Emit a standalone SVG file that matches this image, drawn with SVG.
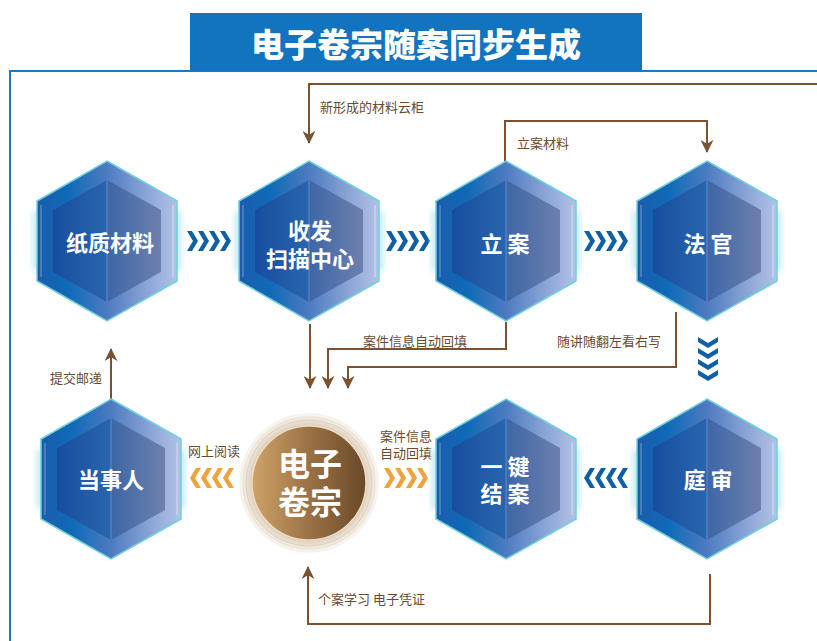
<svg xmlns="http://www.w3.org/2000/svg" xmlns:xlink="http://www.w3.org/1999/xlink" width="817" height="641" viewBox="0 0 817 641">
<style>
.title{font-family:"Noto Sans CJK SC","Noto Sans",sans-serif;font-weight:900;font-size:33px;fill:#fff}
.nt{font-family:"Noto Sans CJK SC","Noto Sans",sans-serif;font-weight:700;font-size:22px;fill:#fff}
.ct{font-family:"Noto Sans CJK SC","Noto Sans",sans-serif;font-weight:700;font-size:32px;fill:#fff}
.lb{font-family:"Noto Sans CJK SC","Noto Sans",sans-serif;font-size:13px;fill:#6b4a2e}
.con{fill:none;stroke:#7a5230;stroke-width:2}
</style>
<defs>
<linearGradient id="gOut" x1="0" y1="0" x2="1" y2="0">
<stop offset="0" stop-color="#1c5cad"/>
<stop offset="0.22" stop-color="#0e6ab7"/>
<stop offset="0.5" stop-color="#4d7bc0"/>
<stop offset="0.8" stop-color="#8ea7d7"/>
<stop offset="1" stop-color="#b3c2e6"/>
</linearGradient>
<linearGradient id="gInL" x1="0" y1="0" x2="1" y2="0">
<stop offset="0" stop-color="#184d9e"/>
<stop offset="1" stop-color="#2966af"/>
</linearGradient>
<linearGradient id="gInR" x1="0" y1="0" x2="1" y2="0">
<stop offset="0" stop-color="#3d66a6"/>
<stop offset="1" stop-color="#6e80ae"/>
</linearGradient>
<linearGradient id="gCirc" x1="0" y1="0" x2="1" y2="0">
<stop offset="0" stop-color="#cfa266"/>
<stop offset="0.5" stop-color="#9a7246"/>
<stop offset="1" stop-color="#6a4929"/>
</linearGradient>
<radialGradient id="gRing" cx="0.5" cy="0.5" r="0.5">
<stop offset="0.78" stop-color="#d9c8b2"/>
<stop offset="0.88" stop-color="#ebe1d4"/>
<stop offset="1" stop-color="#ffffff"/>
</radialGradient>
<filter id="glow" x="-50%" y="-50%" width="200%" height="200%">
<feGaussianBlur stdDeviation="3"/>
</filter>
<g id="hex">
<rect x="-74" y="-30" width="8" height="60" fill="#bfeaf5" filter="url(#glow)"/>
<rect x="66" y="-30" width="8" height="60" fill="#bfeaf5" filter="url(#glow)"/>
<polygon points="0,-80 70,-40 70,40 0,80 -70,40 -70,-40" fill="url(#gOut)" stroke="#6dd0dc" stroke-width="1.5"/>
<polygon points="0,-61 -54,-31 -54,31 0,61" fill="url(#gInL)"/>
<polygon points="0,-61 54,-31 54,31 0,61" fill="url(#gInR)"/>
<line x1="0" y1="-61" x2="0" y2="61" stroke="#8fa6d6" stroke-width="0.8" opacity="0.7"/>
<line x1="-66" y1="-36" x2="-66" y2="36" stroke="#cfe4f5" stroke-width="0.8" opacity="0.6"/>
<line x1="66" y1="-36" x2="66" y2="36" stroke="#ffffff" stroke-width="0.8" opacity="0.6"/>
</g>
<g id="chev">
<path d="M0,-10 H5 L11,0 L5,10 H0 L6,0 Z"/>
<path d="M11,-10 H16 L22,0 L16,10 H11 L17,0 Z"/>
<path d="M22,-10 H27 L33,0 L27,10 H22 L28,0 Z"/>
<path d="M33,-10 H38 L44,0 L38,10 H33 L39,0 Z"/>
</g>
<marker id="arr" viewBox="0 0 14 14" refX="13" refY="7" markerWidth="13" markerHeight="13" markerUnits="userSpaceOnUse" orient="auto">
<path d="M0,0 L14,7 L0,14 L4,7 Z" fill="#7a5230"/>
</marker>
</defs>

<rect width="817" height="641" fill="#ffffff"/>

<g id="frame">
<path d="M10,641 V71 H817" fill="none" stroke="#1e78c0" stroke-width="2"/>
<rect x="190" y="13" width="452" height="58" fill="#1273be"/>
<text class="title" x="416" y="43" text-anchor="middle" dominant-baseline="central">电子卷宗随案同步生成</text>
</g>

<g id="connectors">
<path class="con" d="M817,84 H309 V143" marker-end="url(#arr)"/>
<path class="con" d="M505,162 V121 H707 V152" marker-end="url(#arr)"/>
<path class="con" d="M310,324 V388" marker-end="url(#arr)"/>
<path class="con" d="M506,322 V349 H328 V388" marker-end="url(#arr)"/>
<path class="con" d="M676,312 V367 H348 V388" marker-end="url(#arr)"/>
<path class="con" d="M111,399 V349" marker-end="url(#arr)"/>
<path class="con" d="M710,574 V624 H308 V567" marker-end="url(#arr)"/>
<text class="lb" x="320" y="106" dominant-baseline="central">新形成的材料云柜</text>
<text class="lb" x="517" y="142" dominant-baseline="central">立案材料</text>
<text class="lb" x="363" y="340" dominant-baseline="central">案件信息自动回填</text>
<text class="lb" x="557" y="340" dominant-baseline="central">随讲随翻左看右写</text>
<text class="lb" x="50" y="377" dominant-baseline="central">提交邮递</text>
<text class="lb" x="188" y="450" dominant-baseline="central">网上阅读</text>
<text class="lb" x="380" y="435" dominant-baseline="central">案件信息</text>
<text class="lb" x="380" y="452" dominant-baseline="central">自动回填</text>
<text class="lb" x="318" y="598" dominant-baseline="central">个案学习 电子凭证</text>
<use xlink:href="#chev" href="#chev" transform="translate(187,241)" fill="#0f5fa6"/>
<use xlink:href="#chev" href="#chev" transform="translate(386,241)" fill="#0f5fa6"/>
<use xlink:href="#chev" href="#chev" transform="translate(584,241)" fill="#0f5fa6"/>
<use xlink:href="#chev" href="#chev" transform="translate(708,337) rotate(90)" fill="#0f5fa6"/>
<use xlink:href="#chev" href="#chev" transform="translate(628,478) rotate(180)" fill="#0f5fa6"/>
<use xlink:href="#chev" href="#chev" transform="translate(234,478) rotate(180)" fill="#f0a23c"/>
<use xlink:href="#chev" href="#chev" transform="translate(384,478)" fill="#f0a23c"/>
</g>

<g id="n-paper">
<use xlink:href="#hex" href="#hex" transform="translate(107,241)"/>
<text class="nt" x="110" y="241" text-anchor="middle" dominant-baseline="central">纸质材料</text>
</g>
<g id="n-scan">
<use xlink:href="#hex" href="#hex" transform="translate(309,241)"/>
<text class="nt" text-anchor="middle" dominant-baseline="central"><tspan x="310" y="229">收发</tspan><tspan x="310" y="257">扫描中心</tspan></text>
</g>
<g id="n-filing">
<use xlink:href="#hex" href="#hex" transform="translate(506,241)"/>
<text class="nt" x="505" y="242" text-anchor="middle" dominant-baseline="central">立 案</text>
</g>
<g id="n-judge">
<use xlink:href="#hex" href="#hex" transform="translate(707,241)"/>
<text class="nt" x="708" y="242" text-anchor="middle" dominant-baseline="central">法 官</text>
</g>
<g id="n-party">
<use xlink:href="#hex" href="#hex" transform="translate(111,479)"/>
<text class="nt" x="111" y="478" text-anchor="middle" dominant-baseline="central">当事人</text>
</g>
<g id="n-close">
<use xlink:href="#hex" href="#hex" transform="translate(506,479)"/>
<text class="nt" text-anchor="middle" dominant-baseline="central"><tspan x="505" y="465">一 键</tspan><tspan x="505" y="492">结 案</tspan></text>
</g>
<g id="n-trial">
<use xlink:href="#hex" href="#hex" transform="translate(707,479)"/>
<text class="nt" x="708" y="478" text-anchor="middle" dominant-baseline="central">庭 审</text>
</g>
<g id="n-ecase">
<circle cx="309" cy="483" r="71" fill="url(#gRing)"/>
<circle cx="309" cy="483" r="63" fill="none" stroke="#cdb89c" stroke-width="0.6" opacity="0.7"/>
<circle cx="309" cy="483" r="66" fill="none" stroke="#d8c7b0" stroke-width="0.6" opacity="0.6"/>
<circle cx="309" cy="483" r="69" fill="none" stroke="#e6dacb" stroke-width="0.6" opacity="0.5"/>
<circle cx="309" cy="483" r="57" fill="url(#gCirc)" stroke="#ecdcc4" stroke-width="1.5"/>
<text class="ct" text-anchor="middle" dominant-baseline="central"><tspan x="310" y="462">电子</tspan><tspan x="310" y="500">卷宗</tspan></text>
</g>
</svg>
